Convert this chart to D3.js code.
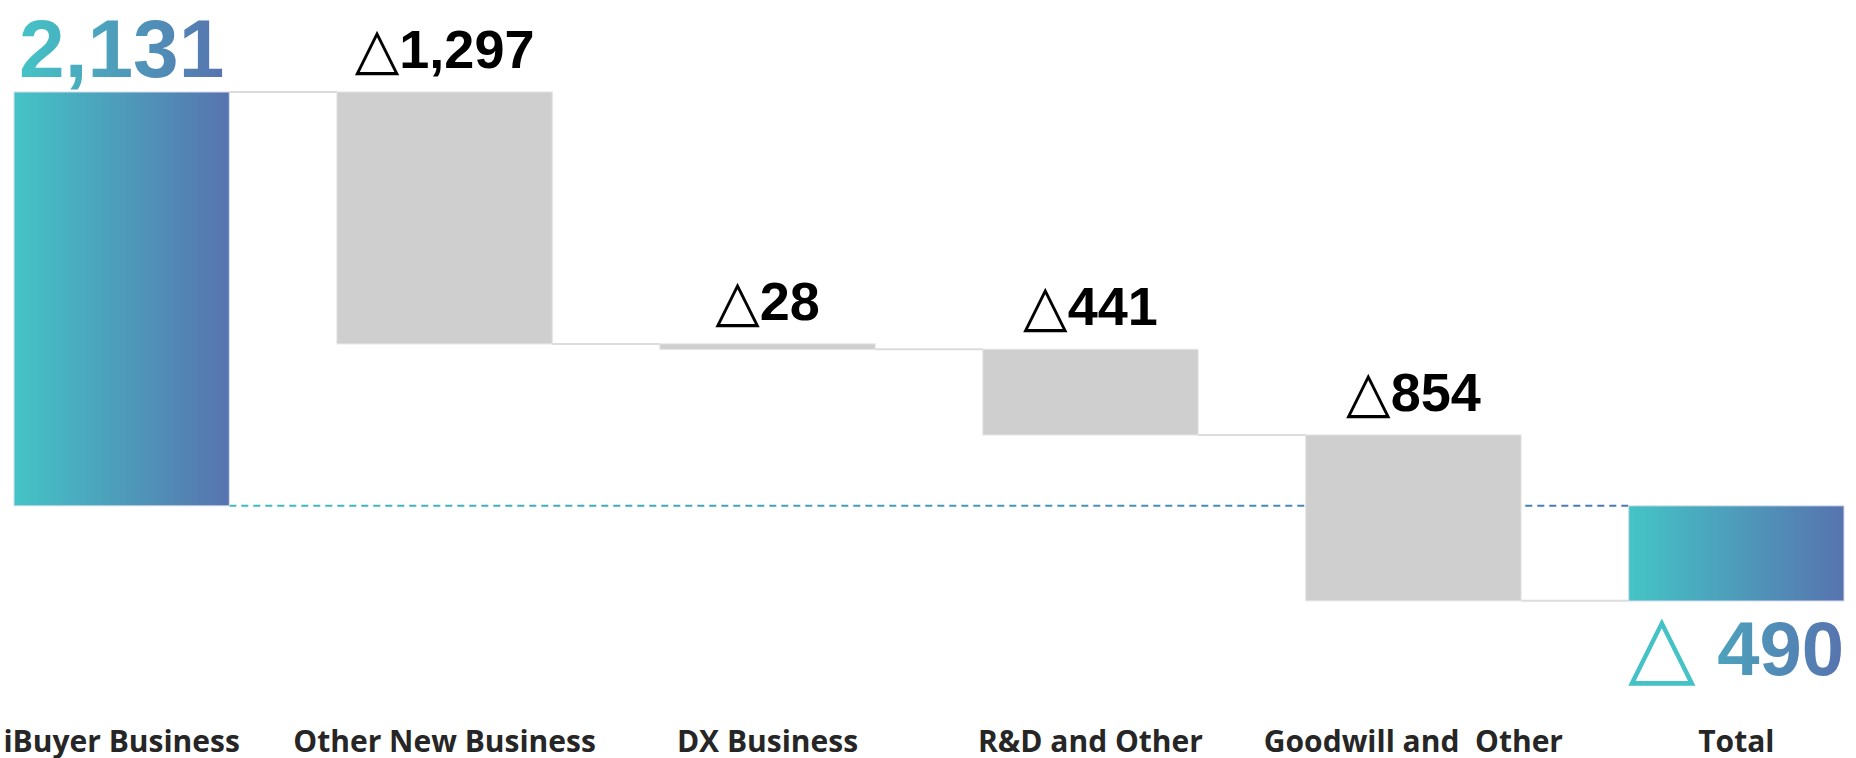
<!DOCTYPE html>
<script src="https://d3js.org/d3.v7.min.js"></script>
<html>
  <title>Waterfall</title>
  <style>
   body {margin: 0; background: #ffffff;}
   .cat {font-family: "Open Sans", sans-serif; font-weight: bold; font-size: 30px; fill: #262626;}
   .val {font-family: "Liberation Sans", Arial, sans-serif; font-weight: bold; font-size: 54px; fill: #000000;}
   .tri {font-family: "DejaVu Sans", sans-serif; font-weight: normal;}
 </style>
<body>
  <div id="wf"></div>
</body>
</html>

<script>
var width = 1856,
    height = 758;

// data
var categories = ["iBuyer Business", "Other New Business", "DX Business", "R&D and Other", "Goodwill and  Other", "Total"];
var values = [2131, -1297, -28, -441, -854, -490];
var kinds = ["start", "delta", "delta", "delta", "delta", "total"];

var svg = d3.select("#wf")
            .append("svg")
            .attr("width", width)
            .attr("height", height);

var defs = svg.append("defs");

var grad = defs.append("linearGradient")
               .attr("id", "grad")
               .attr("x1", "0%").attr("x2", "100%")
               .attr("y1", "0%").attr("y2", "0%");
grad.append("stop").attr("offset", "0%").attr("stop-color", "#44c4c6");
grad.append("stop").attr("offset", "100%").attr("stop-color", "#5773af");

var gradLine = defs.append("linearGradient")
                   .attr("id", "gradLine")
                   .attr("gradientUnits", "userSpaceOnUse");
gradLine.append("stop").attr("offset", "0%").attr("stop-color", "#3fbcc0");
gradLine.append("stop").attr("offset", "100%").attr("stop-color", "#4a78b4");

// running totals for the waterfall
var run = 0;
var data = categories.map(function(c, i) {
  var d = {cat: c, v: values[i], kind: kinds[i]};
  if (d.kind == "start") { d.y0 = 0; d.y1 = d.v; run = d.v; }
  else if (d.kind == "delta") { d.y0 = run; d.y1 = run + d.v; run = d.y1; }
  else { d.y0 = 0; d.y1 = d.v; }
  return d;
});

var x = d3.scaleBand()
          .domain(categories)
          .range([14, 1844])
          .paddingInner(1/3)
          .paddingOuter(0);

var y = d3.scaleLinear()
          .domain([-490, 2131])
          .range([601, 92]);

// zero line, dashed
gradLine.attr("x1", x(categories[0]) + x.bandwidth()).attr("x2", x("Total"));
svg.append("line")
   .attr("x1", x(categories[0]) + x.bandwidth())
   .attr("x2", x("Total"))
   .attr("y1", y(0))
   .attr("y2", y(0))
   .style("stroke", "url(#gradLine)")
   .style("stroke-width", 2)
   .style("stroke-dasharray", "7,5");

// connectors between bars
for (var i = 0; i < data.length - 1; i++) {
  svg.append("line")
     .attr("x1", x(data[i].cat) + x.bandwidth())
     .attr("x2", x(data[i + 1].cat))
     .attr("y1", y(data[i].y1))
     .attr("y2", y(data[i].y1))
     .style("stroke", "#dcdcdc")
     .style("stroke-width", 2);
}

svg.selectAll(".bar")
   .data(data)
   .enter()
   .append("rect")
   .attr("class", "bar")
   .attr("x", function(d) { return x(d.cat); })
   .attr("width", x.bandwidth())
   .attr("y", function(d) { return y(Math.max(d.y0, d.y1)); })
   .attr("height", function(d) { return Math.abs(y(d.y0) - y(d.y1)); })
   .style("fill", function(d) { return d.kind == "delta" ? "#d0cfd0" : "url(#grad)"; })
   .style("stroke", function(d) { return d.kind == "delta" ? "#e2e2e2" : "#d6dcec"; })
   .style("stroke-width", 1);

var fmt = d3.format(",");

// start value label
var first = data[0];
svg.append("text")
   .attr("x", x(first.cat) + x.bandwidth() / 2)
   .attr("y", y(first.y1) - 15)
   .attr("text-anchor", "middle")
   .style("font-family", "'Liberation Sans', Arial, sans-serif")
   .style("font-weight", "bold")
   .style("font-size", "82px")
   .style("fill", "url(#grad)")
   .text(fmt(first.v));

// delta labels
var deltaLab = svg.selectAll(".val")
   .data(data.filter(function(d) { return d.kind == "delta"; }))
   .enter()
   .append("text")
   .attr("class", "val")
   .attr("x", function(d) { return x(d.cat) + x.bandwidth() / 2; })
   .attr("y", function(d) { return y(d.y0) - 24; })
   .attr("text-anchor", "middle");
deltaLab.append("tspan").attr("class", "tri").style("font-size", "58px").text("\u25B3");
deltaLab.append("tspan").text(function(d) { return fmt(-d.v); });

// total label under the bar
var last = data[data.length - 1];
var totLab = svg.append("text")
   .attr("x", x(last.cat) + x.bandwidth())
   .attr("y", y(last.y1) + 74)
   .attr("text-anchor", "end")
   .style("font-family", "'Liberation Sans', Arial, sans-serif")
   .style("font-weight", "bold")
   .style("font-size", "76px")
   .style("fill", "url(#grad)");
totLab.append("tspan")
      .attr("class", "tri")
      .style("fill", "#45c2c5")
      .style("font-weight", "200")
      .style("font-size", "88px")
      .text("\u25B3");
totLab.append("tspan").text(" " + fmt(-last.v));

// category labels
svg.selectAll(".cat")
   .data(data)
   .enter()
   .append("text")
   .attr("class", "cat")
   .attr("x", function(d) { return x(d.cat) + x.bandwidth() / 2; })
   .attr("y", 752)
   .attr("text-anchor", "middle")
   .style("white-space", "pre")
   .text(function(d) { return d.cat; });
</script>
